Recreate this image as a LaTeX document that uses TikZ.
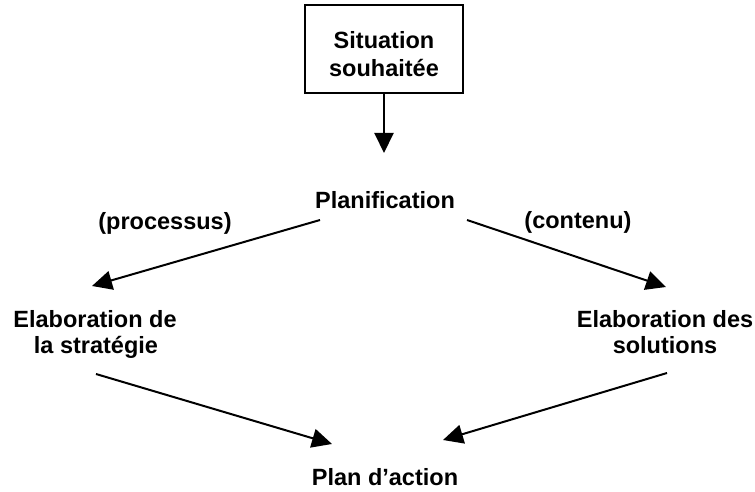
\documentclass[tikz,border=0pt]{standalone}
\usepackage{fontspec}
\setmainfont{Liberation Sans}
\usetikzlibrary{arrows.meta}
\begin{document}
\begin{tikzpicture}[x=0.5pt,y=-0.5pt,
  lbl/.style={font=\bfseries\fontsize{11.75}{14}\selectfont, inner sep=0pt, anchor=base},
  framebox/.style={draw, line width=1pt, minimum width=79pt, minimum height=44pt, inner sep=0pt},
  flow/.style={line width=1pt, -{Triangle[length=10pt,width=9.5pt]}}]
  \useasboundingbox (0,0) rectangle (755,492);

  % goal box
  \node[framebox] (goal) at (384,49) {};
  \node[lbl] (goalA) at (384,49) {Situation};
  \node[lbl] (goalB) at (384,77) {souhaitée};

  % planning stage and the two branch labels
  \node[lbl] (plan) at (385,208) {Planification};
  \node[lbl] (proc) at (165,229) {(processus)};
  \node[lbl] (cont) at (578,228) {(contenu)};

  % the two branches
  \node[lbl] (stratA) at (95,327) {Elaboration de};
  \node[lbl] (stratB) at (96,353) {la stratégie};
  \node[lbl] (solA) at (665,327) {Elaboration des};
  \node[lbl] (solB) at (665,353) {solutions};

  % result
  \node[lbl] (action) at (385,485) {Plan d’action};

  % connector end points
  \coordinate (goalOut) at (384,93);
  \coordinate (planIn)  at (384,153);
  \coordinate (planL)   at (320,220);
  \coordinate (planR)   at (467,220);
  \coordinate (stratIn) at (92,286);
  \coordinate (solIn)   at (666,287);
  \coordinate (stratOut) at (96,374);
  \coordinate (solOut)  at (667,373);
  \coordinate (actL)    at (332,444);
  \coordinate (actR)    at (443,440);

  \draw[flow] (goalOut) -- (planIn);
  \draw[flow] (planL) -- (stratIn);
  \draw[flow] (planR) -- (solIn);
  \draw[flow] (stratOut) -- (actL);
  \draw[flow] (solOut) -- (actR);
\end{tikzpicture}
\end{document}
